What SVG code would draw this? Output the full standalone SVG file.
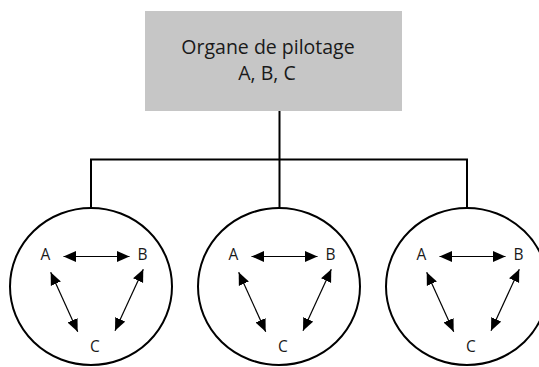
<svg xmlns="http://www.w3.org/2000/svg" width="539" height="367" viewBox="0 0 539 367">
<defs>
<style>
.t{font-family:"Open Sans","DejaVu Sans",sans-serif;fill:#1a1a1a}
.tree{fill:none;stroke:#000;stroke-width:2}
.circ{fill:#fff;stroke:#000;stroke-width:2}
.arr{fill:none;stroke:#000;stroke-width:1.2;marker-start:url(#ah);marker-end:url(#ah)}
.lbl{font-size:15.5px;text-anchor:middle}
</style>
<marker id="ah" markerWidth="14" markerHeight="12" refX="12.5" refY="6" orient="auto-start-reverse" markerUnits="userSpaceOnUse">
<path d="M0,0.5 L12.5,6 L0,11.5 Z" fill="#000"/>
</marker>
<g id="tri">
<path class="arr" d="M63.5,256.5 L129.5,256.5"/>
<path class="arr" d="M50.7,272.3 L77.7,331.7"/>
<path class="arr" d="M143.3,269.3 L115,330.7"/>
</g>
</defs>
<g id="pilotage">
<rect x="145" y="11" width="257" height="100" fill="#c6c6c6"/>
<text class="t" x="268" y="54" font-size="19.5" text-anchor="middle">Organe de pilotage</text>
<text class="t" x="267" y="80" font-size="19.5" text-anchor="middle">A, B, C</text>
</g>
<g id="connectors">
<path class="tree" d="M279.5,111 V208 M91,159.5 H467 M91,158.5 V208 M467,158.5 V208"/>
</g>
<g id="groupe1">
<ellipse class="circ" cx="91" cy="286.5" rx="81" ry="78.5"/>
<text class="t lbl" x="45.5" y="259.5">A</text>
<text class="t lbl" x="142.5" y="259.5">B</text>
<text class="t lbl" x="95" y="351.5">C</text>
</g>
<g id="groupe2">
<ellipse class="circ" cx="279" cy="286.5" rx="81" ry="78.5"/>
<text class="t lbl" x="233.5" y="259.5">A</text>
<text class="t lbl" x="330.5" y="259.5">B</text>
<text class="t lbl" x="283" y="351.5">C</text>
</g>
<g id="groupe3">
<ellipse class="circ" cx="467" cy="286.5" rx="81" ry="78.5"/>
<text class="t lbl" x="421.5" y="259.5">A</text>
<text class="t lbl" x="518.5" y="259.5">B</text>
<text class="t lbl" x="471" y="351.5">C</text>
</g>
<g id="arrows">
<use href="#tri"/>
<use href="#tri" transform="translate(188,0)"/>
<use href="#tri" transform="translate(376,0)"/>
</g>
</svg>
